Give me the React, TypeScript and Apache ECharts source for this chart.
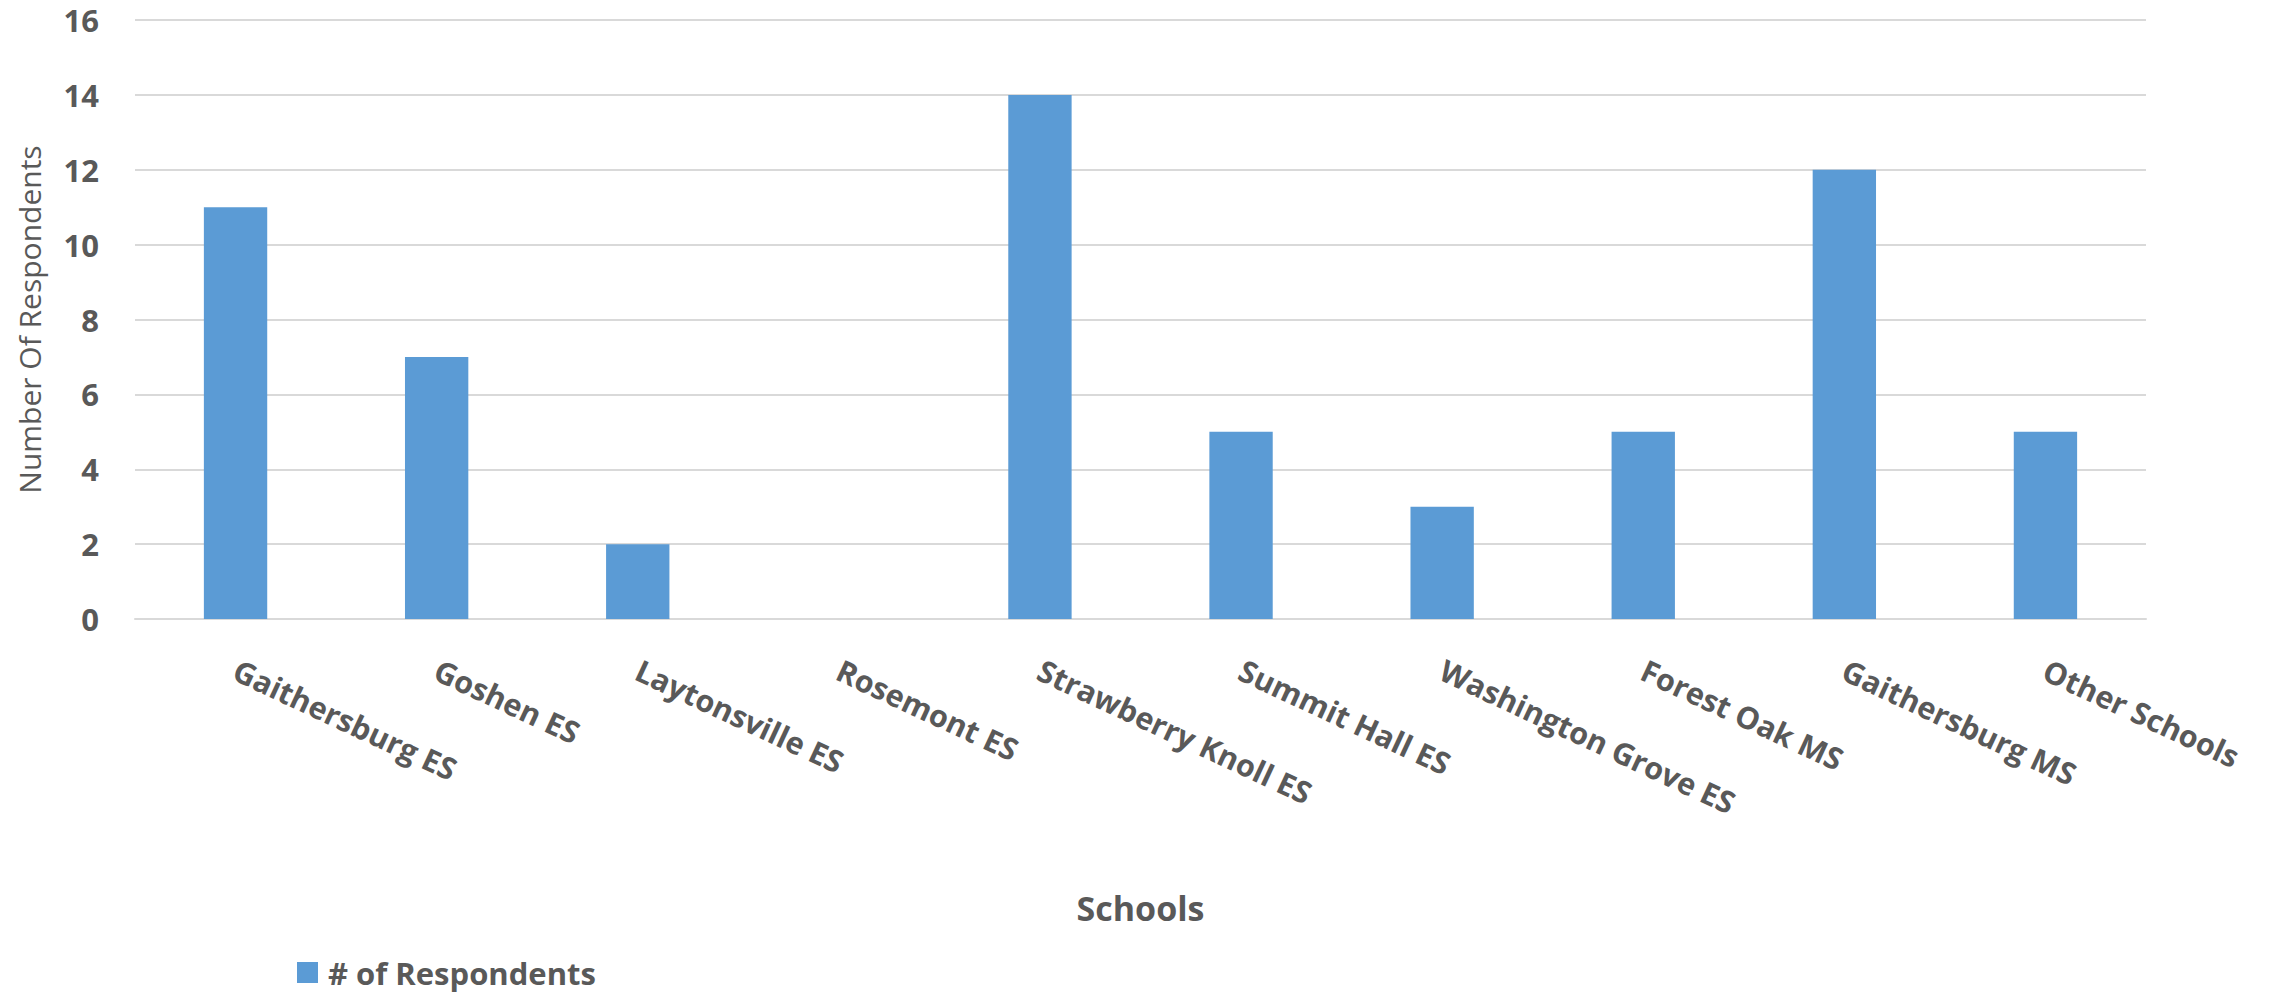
import React, { useEffect, useRef } from "react";
import * as echarts from "echarts";

const schools = [
  "Gaithersburg ES",
  "Goshen ES",
  "Laytonsville ES",
  "Rosemont ES",
  "Strawberry Knoll ES",
  "Summit Hall ES",
  "Washington Grove ES",
  "Forest Oak MS",
  "Gaithersburg MS",
  "Other Schools",
];
const respondents = [11, 7, 2, 0, 14, 5, 3, 5, 12, 5];
const seriesName = "# of Respondents";
const xTitle = "Schools";
const yTitle = "Number Of Respondents";

const FONT = "'Open Sans', 'Liberation Sans', sans-serif";
const GREY = "#595959";

export default function App() {
  const ref = useRef<HTMLDivElement>(null);
  useEffect(() => {
    if (!ref.current) return;
    const chart = echarts.init(ref.current, null, { renderer: "svg" });
    chart.setOption({
      animation: false,
      backgroundColor: "#ffffff",
      textStyle: { fontFamily: FONT },
      grid: { left: 135, right: 126, top: 20, bottom: 373, containLabel: false },
      legend: {
        data: [seriesName],
        left: 297,
        top: 957,
        padding: 0,
        icon: "rect",
        itemWidth: 21,
        itemHeight: 21,
        textStyle: {
          fontFamily: FONT,
          fontSize: 31,
          fontWeight: "bold",
          color: GREY,
          padding: [0, 0, 0, 5],
        },
      },
      xAxis: {
        type: "category",
        data: schools,
        name: xTitle,
        nameLocation: "middle",
        nameGap: 272,
        nameTextStyle: { fontFamily: FONT, fontSize: 34, fontWeight: "bold", color: GREY },
        axisTick: { show: false },
        axisLine: { lineStyle: { color: "#d9d9d9", width: 2 } },
        axisLabel: {
          interval: 0,
          rotate: -25,
          margin: 49,
          fontFamily: FONT,
          fontSize: 30.5,
          fontWeight: "bold",
          color: GREY,
        },
      },
      yAxis: {
        type: "value",
        min: 0,
        max: 16,
        interval: 2,
        name: yTitle,
        nameLocation: "middle",
        nameGap: 91,
        nameTextStyle: { fontFamily: FONT, fontSize: 30, color: GREY },
        axisLine: { show: false },
        axisTick: { show: false },
        splitLine: { lineStyle: { color: "#d9d9d9", width: 2 } },
        axisLabel: {
          margin: 36,
          fontFamily: FONT,
          fontSize: 31,
          fontWeight: "bold",
          color: GREY,
        },
      },
      series: [
        {
          name: seriesName,
          type: "bar",
          data: respondents,
          barWidth: "31.5%",
          itemStyle: { color: "#5b9bd5" },
        },
      ],
    });
    return () => chart.dispose();
  }, []);
  return (
    <div
      ref={ref}
      style={{ position: "fixed", left: 0, top: 0, width: 2272, height: 992 }}
    />
  );
}
